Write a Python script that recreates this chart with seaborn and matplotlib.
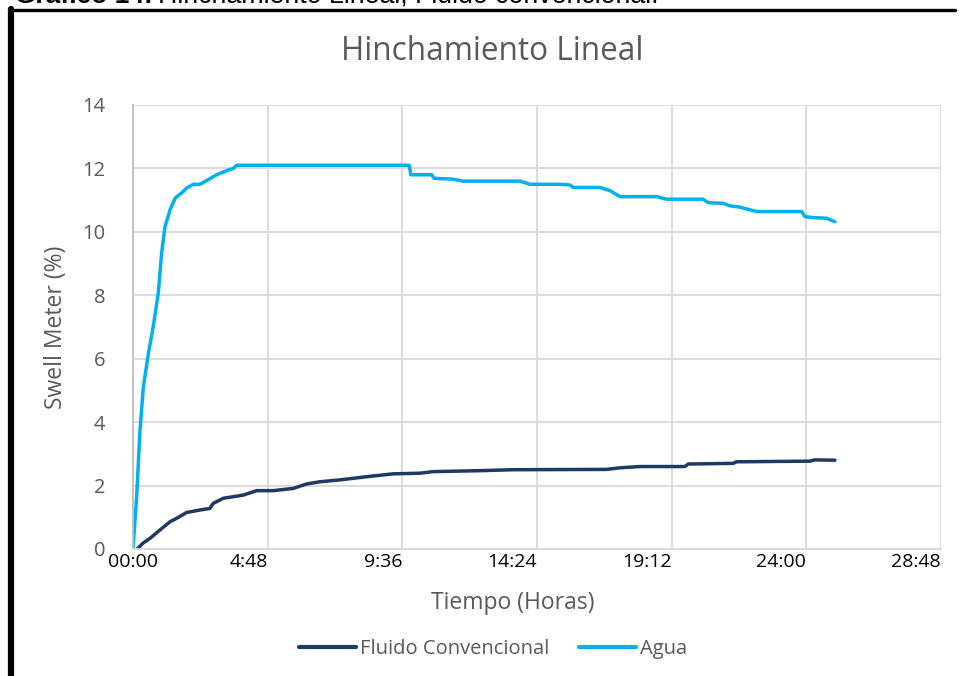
import matplotlib
matplotlib.use("Agg")
import matplotlib.pyplot as plt
from matplotlib.lines import Line2D
import seaborn as sns
import pandas as pd

# ---- data (time in hours, swell in %) ----
t_fluido = [0.15, 0.35, 0.61, 0.96, 1.32, 1.56, 1.91, 2.39, 2.74, 2.86, 3.22, 3.93, 4.41, 5.0,
            5.71, 6.19, 6.66, 7.38, 8.33, 9.28, 10.23, 10.7, 12.37, 13.55, 16.88, 17.36,
            18.07, 19.67, 19.79, 21.39, 21.51, 24.13, 24.3, 25.02]
v_fluido = [0.0, 0.18, 0.34, 0.6, 0.86, 0.97, 1.15, 1.23, 1.28, 1.44, 1.6, 1.7, 1.84, 1.84,
            1.91, 2.05, 2.12, 2.18, 2.28, 2.37, 2.39, 2.44, 2.47, 2.5, 2.51, 2.56,
            2.6, 2.6, 2.68, 2.7, 2.75, 2.77, 2.81, 2.8]

t_agua = [0, 0.13, 0.25, 0.37, 0.55, 0.72, 0.90, 1.02, 1.14, 1.32, 1.50, 1.79, 1.91, 2.15,
          2.39, 2.63, 2.98, 3.34, 3.57, 3.70, 9.85, 9.9, 10.65, 10.73, 11.41, 11.77, 13.79,
          14.15, 15.22, 15.57, 15.69, 16.64, 17.0, 17.36, 18.66, 19.02, 20.32, 20.5, 21.04,
          21.28, 21.63, 22.23, 23.83, 23.95, 24.24, 24.72, 25.02]
v_agua = [0, 1.65, 3.75, 5.12, 6.17, 7.01, 8.06, 9.33, 10.16, 10.69, 11.06, 11.27, 11.38, 11.5,
          11.5, 11.62, 11.8, 11.93, 12.0, 12.1, 12.1, 11.8, 11.8, 11.69, 11.66, 11.6, 11.6,
          11.5, 11.5, 11.48, 11.4, 11.4, 11.3, 11.11, 11.11, 11.03, 11.03, 10.92, 10.9,
          10.82, 10.78, 10.64, 10.64, 10.48, 10.45, 10.43, 10.32]

series = ["Fluido Convencional", "Agua"]
colors = ["#203864", "#00B0F0"]

x_ticks = [0, 4.8, 9.6, 14.4, 19.2, 24.0, 28.8]
x_labels = ["00:00", "4:48", "9:36", "14:24", "19:12", "24:00", "28:48"]
y_ticks = [0, 2, 4, 6, 8, 10, 12, 14]

df = pd.concat([
    pd.DataFrame({"t": t_fluido, "v": v_fluido, "serie": series[0]}),
    pd.DataFrame({"t": t_agua, "v": v_agua, "serie": series[1]}),
], ignore_index=True)

sns.set_theme(style="white")
plt.rcParams["font.family"] = ["Open Sans", "DejaVu Sans"]

fig = plt.figure(figsize=(9.63, 6.76), dpi=100)
ax = fig.add_axes([133/963, 1 - 549/676, (941-133)/963, (549-105)/676])

sns.lineplot(data=df, x="t", y="v", hue="serie", hue_order=series, palette=colors,
             sort=False, estimator=None, linewidth=2.5, ax=ax, solid_capstyle="round")

ax.set_xlim(0, 28.8)
ax.set_ylim(0, 14)
ax.set_xticks(x_ticks)
ax.set_xticklabels(x_labels)
ax.set_yticks(y_ticks)
ax.grid(True, color="#D9D9D9", linewidth=1.3)
ax.set_axisbelow(True)
for s in ["top", "right"]:
    ax.spines[s].set_visible(False)
ax.spines["left"].set_color("#BFBFBF")
ax.spines["bottom"].set_color("#D9D9D9")
ax.spines["left"].set_linewidth(1.3)
ax.spines["bottom"].set_linewidth(1.3)
ax.tick_params(axis="both", length=0)
ax.tick_params(axis="x", labelsize=14, colors="black", pad=3)
ax.tick_params(axis="y", labelsize=14.5, labelcolor="#595959", pad=20)
for i, lab in enumerate(ax.get_xticklabels()):
    lab.set_ha("center" if i == 0 else "right")

ax.set_xlabel("Tiempo (Horas)", fontsize=16.5, color="#595959", labelpad=8)
ax.xaxis.set_label_coords((513 - 133) / 808, -0.095)
ax.set_ylabel("Swell Meter (%)", fontsize=16.5, color="#595959", labelpad=10)

fig.text(492/963, 1 - 52/676, "Hinchamiento Lineal", ha="center", va="center",
         fontsize=22.7, color="#595959")

sns.move_legend(ax, "center", bbox_to_anchor=((493 - 133) / 808, -0.225), ncol=2,
                frameon=False, title=None, fontsize=14.5, handlelength=2.8,
                handletextpad=0.2, columnspacing=1.5)
for line in ax.get_legend().get_lines():
    line.set_linewidth(3)
for t in ax.get_legend().get_texts():
    t.set_color("#595959")

# clipped caption at the top (only its lower edge is visible, as in the reference)
fig.canvas.draw()
r = fig.canvas.get_renderer()
cap_y = 1 - 3/676
t1 = fig.text(15/963, cap_y, "Gráfico 14:", ha="left", va="baseline", fontsize=19,
              fontweight="bold", color="black", family=["Liberation Sans", "DejaVu Sans"])
bb = t1.get_window_extent(renderer=r)
fig.text((bb.x1 + 5) / 963, cap_y, "Hinchamiento Lineal, Fluido convencional.",
         ha="left", va="baseline", fontsize=19.3, color="black",
         family=["Liberation Sans", "DejaVu Sans"])

# black frame lines
fig.add_artist(Line2D([11/963, 11/963], [0, 1 - 9/676], color="black", lw=4.5,
                      transform=fig.transFigure))
fig.add_artist(Line2D([9/963, 955/963], [1 - 10/676, 1 - 10/676], color="black", lw=2.4,
                      transform=fig.transFigure))

fig.savefig("out.png", dpi=100)
